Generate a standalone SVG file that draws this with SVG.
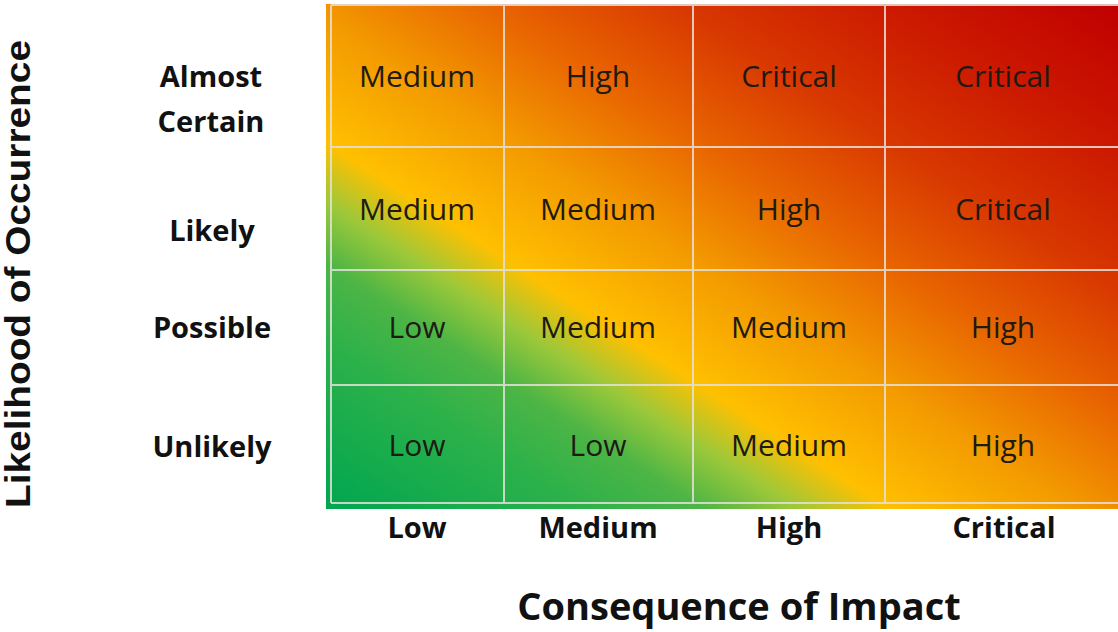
<svg xmlns="http://www.w3.org/2000/svg" width="1118" height="632" viewBox="0 0 1118 632">
  <style>
    .cell { font-family: "Open Sans", "Noto Sans", sans-serif; font-size: 30px; fill: #1e1a14; text-anchor: middle; }
    .lab { font-family: "Open Sans", "Noto Sans", sans-serif; font-weight: bold; font-size: 29px; fill: #111; text-anchor: middle; }
    .grid { stroke: #e4e0da; stroke-opacity: 0.85; stroke-width: 2; fill: none; }
  </style>
  <defs>
    <linearGradient id="heat" gradientUnits="userSpaceOnUse" x1="254" y1="461" x2="719" y2="-254">
      <stop offset="0" stop-color="#00a650"/>
      <stop offset="0.16" stop-color="#2bb14a"/>
      <stop offset="0.24" stop-color="#4db545"/>
      <stop offset="0.3" stop-color="#9cc83a"/>
      <stop offset="0.36" stop-color="#ffc000"/>
      <stop offset="0.48" stop-color="#f39a00"/>
      <stop offset="0.6" stop-color="#e86400"/>
      <stop offset="0.72" stop-color="#d83800"/>
      <stop offset="0.85" stop-color="#cc1a00"/>
      <stop offset="1" stop-color="#c00000"/>
    </linearGradient>
  </defs>
  <rect width="1118" height="632" fill="#ffffff"/>

  <g id="matrix">
    <rect x="326" y="4" width="792" height="505" fill="url(#heat)"/>
  </g>
  <g id="grid-lines">
    <path class="grid" d="M331 5 H1118 M331 147 H1118 M331 270 H1118 M331 385 H1118 M331 503 H1118 M331 5 V503 M504 5 V503 M693 5 V503 M885 5 V503"/>
  </g>

  <g id="cells">
    <g id="c-r1-c1"><text class="cell" x="417" y="87">Medium</text></g>
    <g id="c-r1-c2"><text class="cell" x="598" y="87">High</text></g>
    <g id="c-r1-c3"><text class="cell" x="789" y="87">Critical</text></g>
    <g id="c-r1-c4"><text class="cell" x="1003" y="87">Critical</text></g>
    <g id="c-r2-c1"><text class="cell" x="417" y="220">Medium</text></g>
    <g id="c-r2-c2"><text class="cell" x="598" y="220">Medium</text></g>
    <g id="c-r2-c3"><text class="cell" x="789" y="220">High</text></g>
    <g id="c-r2-c4"><text class="cell" x="1003" y="220">Critical</text></g>
    <g id="c-r3-c1"><text class="cell" x="417" y="338">Low</text></g>
    <g id="c-r3-c2"><text class="cell" x="598" y="338">Medium</text></g>
    <g id="c-r3-c3"><text class="cell" x="789" y="338">Medium</text></g>
    <g id="c-r3-c4"><text class="cell" x="1003" y="338">High</text></g>
    <g id="c-r4-c1"><text class="cell" x="417" y="456">Low</text></g>
    <g id="c-r4-c2"><text class="cell" x="598" y="456">Low</text></g>
    <g id="c-r4-c3"><text class="cell" x="789" y="456">Medium</text></g>
    <g id="c-r4-c4"><text class="cell" x="1003" y="456">High</text></g>
  </g>

  <g id="row-labels">
    <g id="row-almost-certain"><text class="lab" x="211" y="87">Almost</text><text class="lab" x="211" y="132">Certain</text></g>
    <g id="row-likely"><text class="lab" x="212" y="241">Likely</text></g>
    <g id="row-possible"><text class="lab" x="212" y="338">Possible</text></g>
    <g id="row-unlikely"><text class="lab" x="212" y="457">Unlikely</text></g>
  </g>

  <g id="col-labels">
    <g id="col-low"><text class="lab" x="417" y="538">Low</text></g>
    <g id="col-medium"><text class="lab" x="598" y="538">Medium</text></g>
    <g id="col-high"><text class="lab" x="789" y="538">High</text></g>
    <g id="col-critical"><text class="lab" x="1004" y="538">Critical</text></g>
  </g>

  <g id="axis-x">
    <text x="739" y="620" font-family="'Open Sans', 'Noto Sans', sans-serif" font-weight="bold" font-size="38" fill="#111" text-anchor="middle">Consequence of Impact</text>
  </g>
  <g id="axis-y">
    <text transform="translate(30,274) rotate(-90)" font-family="'Liberation Sans', Arial, sans-serif" font-weight="bold" font-size="35" fill="#111" text-anchor="middle" textLength="468" lengthAdjust="spacingAndGlyphs">Likelihood of Occurrence</text>
  </g>
</svg>
